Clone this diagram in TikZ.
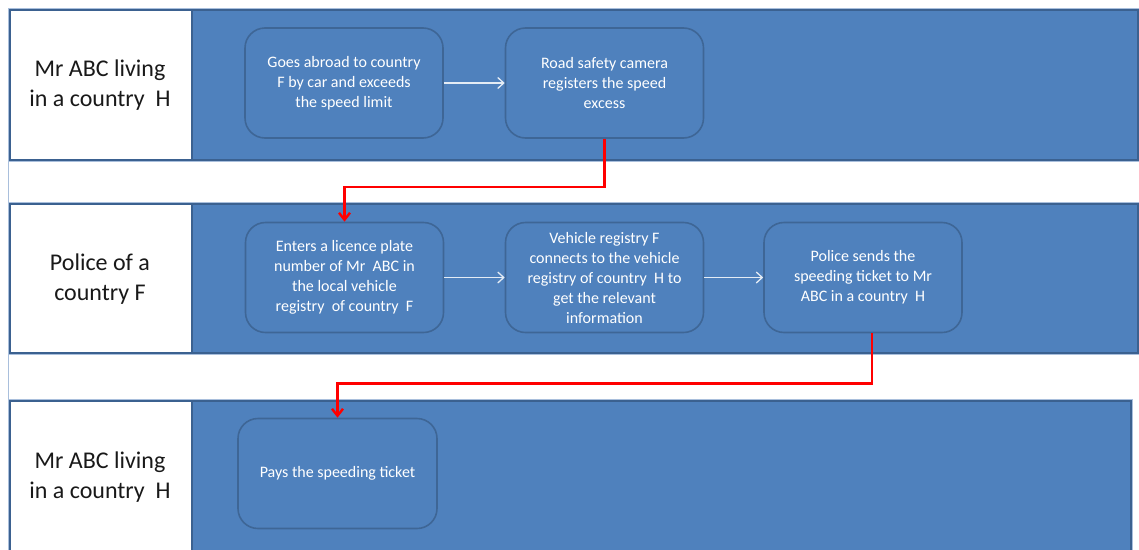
\documentclass[tikz,border=0pt]{standalone}
\usepackage{fontspec}
\setmainfont{Carlito}
\usetikzlibrary{arrows.meta}

\definecolor{lanefill}{HTML}{4F81BD}
\definecolor{laneline}{HTML}{3B6190}
\definecolor{laneglow}{HTML}{A9BFDC}
\definecolor{boxline}{HTML}{3E6696}
\definecolor{flowred}{HTML}{FF0000}
\definecolor{flowwhite}{HTML}{E4ECF5}

\begin{document}
\begin{tikzpicture}[x=1pt,y=-1pt,
  lanebody/.style={fill=lanefill, draw=laneline, line width=2pt,
    preaction={draw=laneglow, line width=4pt}},
  headcell/.style={fill=white, draw=laneline, line width=2pt},
  lanehead/.style={font=\fontsize{24}{30}\selectfont, align=center, text=black!90},
  stepbox/.style={draw=boxline, line width=1.6pt, fill=lanefill,
    rounded corners=20pt, minimum width=198pt, minimum height=110pt,
    text=white, align=center, font=\fontsize{16}{20}\selectfont, inner sep=0pt},
  flow/.style={draw=flowwhite, line width=1.3pt, -{Straight Barb[length=6pt,width=11pt]}},
  handoff/.style={draw=flowred, line width=2.4pt, -{Straight Barb[length=7pt,width=11pt]}},
]
\clip (0,0) rectangle (1139,549);
\fill[white] (0,0) rectangle (1139,549);

% pool edge on the left
\draw[laneglow, line width=1pt] (8.5,8) -- (8.5,560);

% swimlanes
\draw[lanebody] (10,10) rectangle (1138,160);
\draw[headcell] (10,10) rectangle (192,160);
\draw[lanebody] (10,204) rectangle (1138,353);
\draw[headcell] (10,204) rectangle (192,353);
\draw[lanebody] (10,401) rectangle (1131,560);
\draw[headcell] (10,401) rectangle (192,560);

% lane titles
\node[lanehead] (h1) at (100,85) {Mr ABC living\\in a country~ H};
\node[lanehead] (h2) at (100,279) {Police of a\\country F};
\node[lanehead] (h3) at (100,477) {Mr ABC living\\in a country~ H};

% process steps
\node[stepbox] (b1) at (344,83) {Goes abroad to country\\F by car and exceeds\\the speed limit};
\node[stepbox] (b2) at (604.5,83) {Road safety camera\\registers the speed\\excess};
\node[stepbox] (b3) at (344.5,277.5) {Enters a licence plate\\number of Mr~ ABC in\\the local vehicle\\registry~ of country~ F};
\node[stepbox] (b4) at (604.5,277.5) {Vehicle registry F\\connects to the vehicle\\registry of country~ H to\\get the relevant\\information};
\node[stepbox] (b5) at (863,277.5) {Police sends the\\speeding ticket to Mr\\ABC in a country~ H};
\node[stepbox, minimum width=199pt] (b6) at (337.5,473.5) {Pays the speeding ticket};

% flow within lanes
\draw[flow] (b1) -- (b2);
\draw[flow] (b3) -- (b4);
\draw[flow] (b4) -- (b5);

% hand-offs between lanes
\draw[handoff] (b2.south) -- ++(0,48) -| (b3.north);
\draw[handoff] ([xshift=9pt]b5.south) -- ++(0,50) -| (b6.north);
\end{tikzpicture}
\end{document}
